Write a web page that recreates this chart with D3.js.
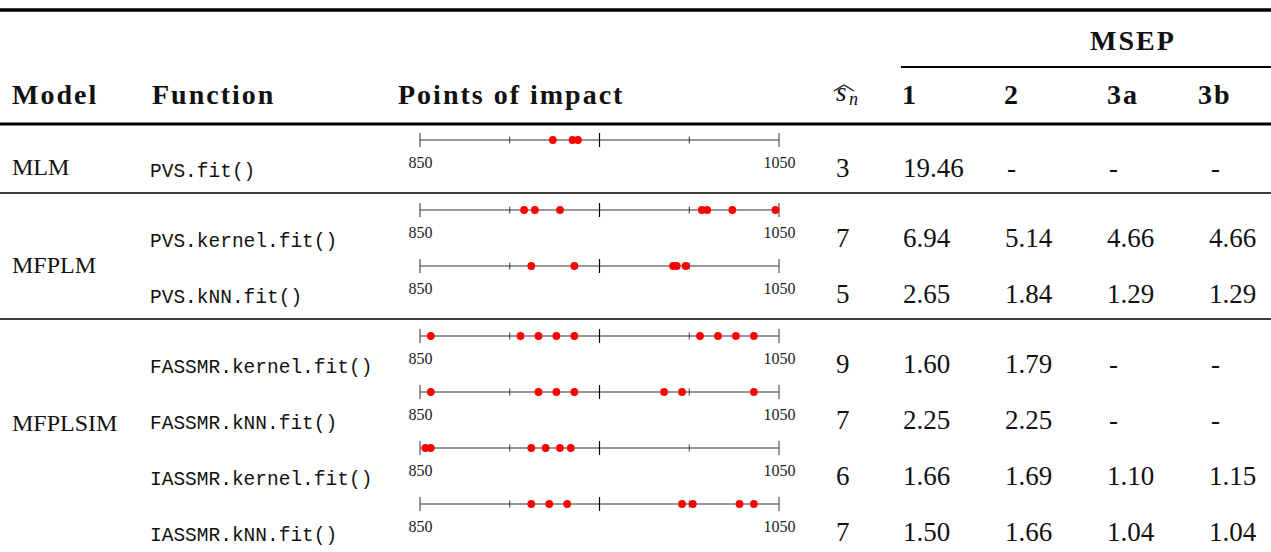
<!DOCTYPE html>
<html>
<head>
<meta charset="utf-8">
<script src="https://cdn.jsdelivr.net/npm/d3@7"></script>
<style>
    html, body { margin: 0; padding: 0; background: #fff; }
    svg { display: block; }
    .serif { font-family: "Liberation Serif", "Times New Roman", serif; fill: #111; }
    .head { font-weight: bold; font-size: 28px; letter-spacing: 2px; }
    .mono { font-family: "Liberation Mono", "DejaVu Sans Mono", monospace; font-size: 19.5px; fill: #111; }
    .num { font-size: 27px; }
    .model { font-size: 24px; }
    .tick-label { font-family: "Liberation Serif", serif; font-size: 16px; fill: #222; }
</style>
</head>
<body>
<div id="table"></div>
<script>
// table data
const modelGroups = ["MLM", "MFPLM", "MFPLSIM"];
const groupOfRow = [0, 1, 1, 2, 2, 2, 2];
const functions = [
    "PVS.fit()",
    "PVS.kernel.fit()",
    "PVS.kNN.fit()",
    "FASSMR.kernel.fit()",
    "FASSMR.kNN.fit()",
    "IASSMR.kernel.fit()",
    "IASSMR.kNN.fit()"
];
const impactPoints = [
    [924, 935, 938],
    [908, 914, 928, 1007, 1010, 1024, 1048],
    [912, 936, 991, 993, 998],
    [856, 906, 916, 926, 936, 1006, 1016, 1026, 1036],
    [856, 916, 926, 936, 986, 996, 1036],
    [853, 856, 912, 920, 928, 934],
    [912, 922, 932, 996, 1002, 1028, 1036]
];
const sHat = [3, 7, 5, 9, 7, 6, 7];
const msepCols = ["1", "2", "3a", "3b"];
const msep1 = ["19.46", "6.94", "2.65", "1.60", "2.25", "1.66", "1.50"];
const msep2 = ["-", "5.14", "1.84", "1.79", "2.25", "1.69", "1.66"];
const msep3a = ["-", "4.66", "1.29", "-", "-", "1.10", "1.04"];
const msep3b = ["-", "4.66", "1.29", "-", "-", "1.15", "1.04"];
const axisDomain = [850, 1050];
const majorTicks = [850, 950, 1050];
const minorTicks = [900, 1000];
const labelTicks = [850, 1050];

const W = 1271, H = 552;
const svg = d3.select("#table").append("svg")
    .attr("width", W)
    .attr("height", H)
    .attr("viewBox", `0 0 ${W} ${H}`);

const col = { model: 12, func: 150, impact: 398, s: 836, msep: [903, 1005, 1107, 1209], msepHead: [902, 1004, 1107, 1198] };

const x = d3.scaleLinear().domain(axisDomain).range([420, 779]);

// vertical layout: rows 56px apart, extra gap between model groups
const axisY = [];
let yy = 140;
groupOfRow.forEach((g, i) => {
    if (i > 0) yy += 56 + (g !== groupOfRow[i - 1] ? 14 : 0);
    axisY.push(yy);
});
const baseY = axisY.map(v => v + 37);

// rules
const rule = (y, w, x1 = 0, x2 = W) => svg.append("line")
    .attr("x1", x1).attr("x2", x2).attr("y1", y).attr("y2", y)
    .attr("stroke", "#000").attr("stroke-width", w);

rule(10, 3.5);
rule(67, 2, 901, W);
rule(124, 3);
groupOfRow.forEach((g, i) => {
    if (i > 0 && g !== groupOfRow[i - 1]) rule(axisY[i - 1] + 53, 1.5);
});

// header
const headY = 104;
const header = svg.append("g").attr("class", "serif head");
header.append("text").attr("x", col.model).attr("y", headY).text("Model");
header.append("text").attr("x", 152).attr("y", headY).text("Function");
header.append("text").attr("x", col.impact).attr("y", headY).text("Points of impact");
header.append("text").attr("x", 1133).attr("y", 50).attr("text-anchor", "middle").text("MSEP");
msepCols.forEach((c, i) => {
    header.append("text").attr("x", col.msepHead[i]).attr("y", headY).text(c);
});

// s-hat_n
const sh = svg.append("g").attr("class", "serif");
sh.append("text").attr("x", 836).attr("y", headY - 3).attr("font-size", 27).attr("font-style", "italic").text("s");
sh.append("text").attr("x", 849).attr("y", headY + 1).attr("font-size", 18).attr("font-style", "italic").text("n");
sh.append("path")
    .attr("d", "M834,91 L844,85 L854,91")
    .attr("fill", "none").attr("stroke", "#111").attr("stroke-width", 1.1);

// model names
modelGroups.forEach((m, g) => {
    const rows = d3.range(groupOfRow.length).filter(i => groupOfRow[i] === g);
    let y = d3.mean(rows, i => baseY[i]);
    if (m === "MFPLSIM") y = baseY[rows[1]] + 4;
    svg.append("text").attr("class", "serif model")
        .attr("x", col.model).attr("y", y - 2).text(m);
});

// rows
const rowsG = svg.selectAll("g.row")
    .data(functions.map((f, i) => ({
        func: f,
        points: impactPoints[i],
        s: sHat[i],
        vals: [msep1[i], msep2[i], msep3a[i], msep3b[i]],
        ay: axisY[i],
        by: baseY[i]
    })))
    .join("g")
    .attr("class", "row");

rowsG.append("text").attr("class", "mono")
    .attr("x", col.func).attr("y", d => d.by).text(d => d.func);

rowsG.append("text").attr("class", "serif num")
    .attr("x", col.s).attr("y", d => d.by).text(d => d.s);

rowsG.each(function (d) {
    const g = d3.select(this);
    d.vals.forEach((v, i) => {
        g.append("text").attr("class", "serif num")
            .attr("x", col.msep[i] + (v === "-" ? 2 : 0))
            .attr("y", d.by).text(v);
    });

    // mini axis of impact points
    const ax = g.append("g").attr("transform", `translate(0, ${d.ay})`);
    ax.append("line")
        .attr("x1", x(axisDomain[0])).attr("x2", x(axisDomain[1]))
        .attr("stroke", "#333").attr("stroke-width", 1.2);
    ax.selectAll("line.major").data(majorTicks).join("line")
        .attr("class", "major")
        .attr("x1", t => x(t)).attr("x2", t => x(t))
        .attr("y1", -7).attr("y2", 7)
        .attr("stroke", t => t === 950 ? "#000" : "#555").attr("stroke-width", 1.2);
    ax.selectAll("line.minor").data(minorTicks).join("line")
        .attr("class", "minor")
        .attr("x1", t => x(t)).attr("x2", t => x(t))
        .attr("y1", -3.5).attr("y2", 3.5)
        .attr("stroke", "#333").attr("stroke-width", 1);

    const labels = ax.append("g")
        .call(d3.axisBottom(x).tickValues(labelTicks).tickSize(0).tickFormat(d3.format("d")));
    labels.select(".domain").remove();
    labels.attr("font-family", null).attr("font-size", null);
    labels.selectAll("text")
        .attr("class", "tick-label")
        .attr("fill", null)
        .attr("y", 28).attr("dy", 0);

    ax.selectAll("circle").data(d.points).join("circle")
        .attr("cx", p => x(p)).attr("cy", 0).attr("r", 3.9)
        .attr("fill", "#f00");
});
</script>
</body>
</html>
